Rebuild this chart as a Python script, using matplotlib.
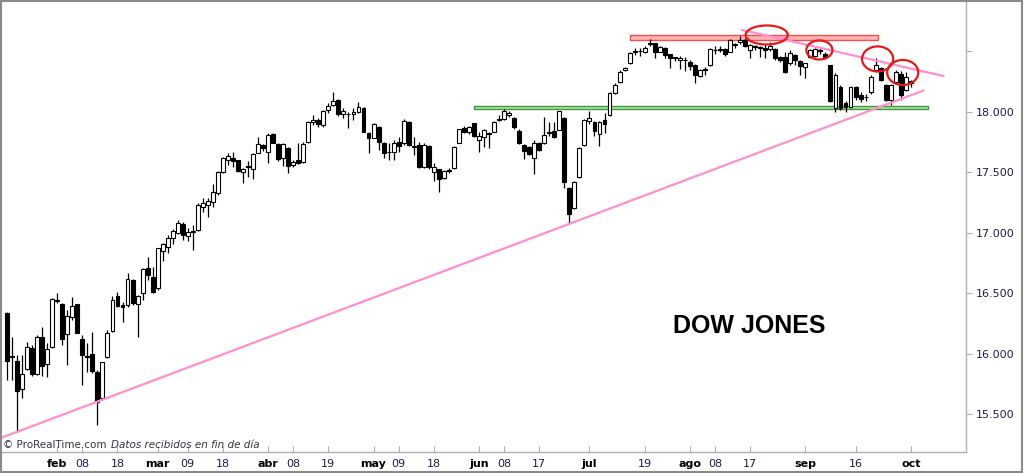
import matplotlib
matplotlib.use("Agg")
import matplotlib.pyplot as plt
from matplotlib.patches import Rectangle, Ellipse

# trading-day index (0 = 15 Jan 2016), one entry per candle
opens = [16340, 15970, 15943, 15707, 15872, 16050, 15833, 16141, 15916, 16054,
         16445, 16411, 16164, 16306, 16409, 16120, 15985, 15998, 15852, 15632,
         15971, 16191, 16478, 16403, 16403, 16610, 16411, 16500, 16709, 16632,
         16541, 16852, 16880, 16954, 16995, 17072, 16973, 17014, 17023, 17215,
         17229, 17257, 17326, 17499, 17601, 17620, 17601, 17499, 17551, 17527,
         17656, 17725, 17670, 17813, 17731, 17615, 17703, 17560, 17601, 17587,
         17747, 17913, 17932, 17890, 18014, 18055, 18097, 17979, 17985, 17985,
         17995, 18033, 17822, 17785, 17876, 17744, 17665, 17670, 17752, 17739,
         17918, 17710, 17725, 17546, 17717, 17505, 17524, 17450, 17515, 17532,
         17744, 17863, 17835, 17904, 17766, 17794, 17825, 17835, 17935, 17937,
         17975, 17945, 17843, 17725, 17711, 17615, 17744, 17739, 17825, 17843,
         17849, 17951, 17367, 17202, 17463, 17725, 17923, 17912, 17812, 17932,
         17973, 18152, 18248, 18345, 18400, 18495, 18500, 18491, 18560, 18565,
         18496, 18529, 18474, 18450, 18427, 18430, 18413, 18386, 18298, 18345,
         18386, 18510, 18510, 18518, 18496, 18555, 18574, 18592, 18510, 18535,
         18530, 18530, 18518, 18518, 18455, 18455, 18400, 18469, 18419, 18372,
         18455, 18463, 18512, 18474, 18386, 18028, 18207, 18069, 18041, 18204,
         18138, 18122, 18165, 18345, 18359, 18221, 18097, 18248, 18309, 18180,
         18250]
highs = [16345, 16141, 15990, 15990, 16100, 16073, 16155, 16221, 16092, 16461,
         16505, 16420, 16362, 16472, 16411, 16155, 16092, 16178, 15866, 15932,
         16197, 16478, 16513, 16430, 16665, 16615, 16486, 16706, 16800, 16719,
         16874, 16918, 16981, 17029, 17105, 17091, 17037, 17064, 17243, 17285,
         17290, 17400, 17510, 17628, 17656, 17670, 17605, 17532, 17593, 17656,
         17794, 17730, 17822, 17822, 17739, 17739, 17711, 17601, 17739, 17747,
         17923, 17973, 17946, 18014, 18069, 18160, 18105, 18028, 18000, 18028,
         18078, 18041, 17835, 17904, 17882, 17752, 17739, 17766, 17794, 17937,
         17923, 17794, 17752, 17741, 17725, 17579, 17530, 17518, 17532, 17715,
         17860, 17882, 17885, 17910, 17835, 17855, 17835, 17927, 17975, 18025,
         18008, 17955, 17855, 17730, 17717, 17766, 17750, 17954, 17918, 17918,
         18010, 17960, 17380, 17430, 17710, 17940, 18006, 17920, 17925, 17987,
         18160, 18235, 18345, 18370, 18490, 18525, 18525, 18540, 18600, 18570,
         18545, 18535, 18480, 18455, 18460, 18450, 18430, 18395, 18355, 18370,
         18525, 18540, 18540, 18530, 18600, 18570, 18625, 18610, 18560, 18555,
         18545, 18560, 18580, 18525, 18460, 18490, 18510, 18475, 18425, 18405,
         18520, 18530, 18530, 18490, 18390, 18317, 18220, 18085, 18215, 18210,
         18160, 18150, 18300, 18440, 18370, 18225, 18230, 18345, 18340, 18330,
         18265]
lows = [15783, 15783, 15356, 15635, 15866, 15816, 15825, 15816, 15811, 16048,
        16417, 16073, 15907, 16279, 16169, 15742, 15852, 15839, 15412, 15618,
        15965, 16180, 16384, 16260, 16389, 16403, 16136, 16444, 16610, 16505,
        16527, 16769, 16830, 16907, 16990, 16940, 16934, 16857, 17014, 17169,
        17133, 17215, 17312, 17491, 17560, 17546, 17504, 17409, 17463, 17444,
        17656, 17675, 17574, 17739, 17593, 17551, 17491, 17546, 17565, 17574,
        17739, 17890, 17876, 17876, 17987, 18050, 17967, 17946, 17863, 17931,
        17987, 17830, 17656, 17780, 17683, 17615, 17601, 17601, 17670, 17725,
        17717, 17642, 17532, 17535, 17530, 17430, 17339, 17440, 17491, 17525,
        17740, 17825, 17820, 17790, 17670, 17711, 17698, 17830, 17925, 17930,
        17960, 17860, 17730, 17607, 17640, 17485, 17675, 17735, 17800, 17780,
        17845, 17367, 17070, 17195, 17455, 17720, 17900, 17802, 17719, 17822,
        17965, 18145, 18240, 18335, 18395, 18465, 18460, 18485, 18540, 18446,
        18490, 18446, 18364, 18420, 18350, 18340, 18345, 18235, 18290, 18300,
        18380, 18480, 18495, 18460, 18490, 18525, 18560, 18535, 18440, 18510,
        18455, 18440, 18500, 18430, 18410, 18320, 18390, 18386, 18303, 18276,
        18445, 18455, 18480, 18440, 18083, 17995, 18014, 18000, 18030, 18100,
        18080, 18090, 18150, 18330, 18250, 18085, 18055, 18235, 18097, 18170,
        18205]
closes = [15943, 15980, 15695, 15833, 16059, 15833, 16141, 15899, 16037, 16453,
          16435, 16122, 16315, 16397, 16174, 15990, 15970, 15860, 15604, 15930,
          16169, 16444, 16395, 16384, 16615, 16417, 16478, 16698, 16651, 16513,
          16872, 16907, 16954, 17017, 17083, 16981, 17009, 17005, 17229, 17243,
          17265, 17339, 17499, 17615, 17634, 17593, 17510, 17527, 17543, 17648,
          17731, 17698, 17808, 17744, 17609, 17731, 17554, 17587, 17574, 17731,
          17918, 17932, 17899, 18006, 18050, 18088, 17979, 18006, 17981, 17995,
          18041, 17835, 17780, 17896, 17752, 17661, 17670, 17744, 17717, 17926,
          17725, 17715, 17546, 17725, 17541, 17541, 17442, 17510, 17510, 17711,
          17855, 17835, 17876, 17799, 17799, 17849, 17820, 17918, 17940, 18008,
          17990, 17871, 17739, 17678, 17651, 17744, 17684, 17808, 17830, 17789,
          18006, 17417, 17152, 17422, 17703, 17932, 17951, 17841, 17918, 17896,
          18152, 18221, 18331, 18364, 18482, 18500, 18505, 18529, 18565, 18491,
          18537, 18469, 18446, 18446, 18441, 18427, 18380, 18303, 18345, 18345,
          18518, 18510, 18515, 18474, 18592, 18555, 18592, 18545, 18551, 18538,
          18527, 18510, 18545, 18441, 18427, 18331, 18482, 18427, 18380, 18400,
          18510, 18518, 18505, 18455, 18088, 18303, 18028, 18041, 18207, 18122,
          18105, 18118, 18289, 18386, 18262, 18097, 18221, 18331, 18138, 18289,
          18235]

tick_pos = [10, 15, 22, 30, 36, 43, 52, 57, 64, 73, 78, 85, 94, 99, 106,
            116, 127, 136, 141, 148, 159, 169, 180]
tick_lab = ["feb", "08", "18", "mar", "09", "18", "abr", "08", "19", "may", "09",
            "18", "jun", "08", "17", "jul", "19", "ago", "08", "17", "sep", "16", "oct"]
months = ["feb", "mar", "abr", "may", "jun", "jul", "ago", "sep", "oct"]
y_ticks = [15500, 16000, 16500, 17000, 17500, 18000, 18500]
y_labs = ["15.500", "16.000", "16.500", "17.000", "17.500", "18.000", ""]

# annotations (index, price)
support_line = ([-1.2, 182.5], [15305, 18175])
resist_line = ([146.4, 186.5], [18675, 18295])
red_band = (124.1, 173.4, 18592, 18634)
green_band = (93.0, 183.5, 18020, 18047)
circles = [(151.3, 18634, 8.4, 157), (161.8, 18510, 5.2, 157),
           (173.4, 18436, 6.2, 207), (178.4, 18324, 6.2, 207)]

fig = plt.figure(figsize=(10.24, 4.73), dpi=100)
ax = fig.add_axes([1 / 1024, 21 / 473, 965 / 1024, 452 / 473])

txt_col = "#1c1c44"
spine_col = "#a8b0b8"

# candles
n = len(closes)
xs = list(range(n))
ax.vlines(xs, lows, highs, color="black", linewidth=0.9, zorder=2)
for i in xs:
    o, c = opens[i], closes[i]
    bottom = min(o, c)
    h = max(abs(c - o), 4)
    fc = "white" if c >= o else "black"
    ax.bar(i, h, bottom=bottom, width=0.78, facecolor=fc, edgecolor="black",
           linewidth=0.8, zorder=3)

# bands
r0, r1, r2, r3 = red_band
ax.add_patch(Rectangle((r0, r2), r1 - r0, r3 - r2, facecolor="#ffb3b3",
                       edgecolor="#f05050", linewidth=1.0, zorder=1))
g0, g1, g2, g3 = green_band
ax.add_patch(Rectangle((g0, g2), g1 - g0, g3 - g2, facecolor="#b8e0b0",
                       edgecolor="#3c9a3c", linewidth=1.0, zorder=1))

# trend lines
ax.plot(*support_line, color="#ff8fcf", linewidth=1.6, zorder=4)
ax.plot(*resist_line, color="#ff8fcf", linewidth=1.6, zorder=4)

for cx, cy, w, h in circles:
    ax.add_patch(Ellipse((cx, cy), w, h, fill=False, edgecolor="#e81818",
                         linewidth=1.6, zorder=5))

ax.text(0.775, 0.279, "DOW JONES", transform=ax.transAxes, ha="center", va="center",
        fontsize=18, fontweight="bold", family="Liberation Sans", color="black")
ax.text(0.002, 0.016, "© ProRealTime.com", transform=ax.transAxes, ha="left",
        va="center", fontsize=7.5, color="#333344")
ax.text(0.114, 0.016, "Datos recibidos en fin de día", transform=ax.transAxes,
        ha="left", va="center", fontsize=7.5, style="italic", color="#333344")

ax.set_xlim(-1.2, 191.0)
ax.set_ylim(15188.6, 18923)

ax.yaxis.tick_right()
ax.set_yticks(y_ticks)
ax.set_yticklabels(y_labs)
ax.tick_params(axis="y", direction="out", length=4, width=0.8, color=spine_col,
               labelsize=8, labelcolor=txt_col, pad=3)
ax.set_xticks(tick_pos)
ax.set_xticklabels(tick_lab)
ax.tick_params(axis="x", direction="in", length=4, width=0.8, color=spine_col,
               labelsize=8, labelcolor=txt_col, pad=5)
for lab in ax.get_xticklabels():
    if lab.get_text() in months:
        lab.set_fontweight("bold")
        lab.set_color("black")

for s in ["top", "left"]:
    ax.spines[s].set_visible(False)
for s in ["right", "bottom"]:
    ax.spines[s].set_color(spine_col)
    ax.spines[s].set_linewidth(1.0)

# outer frame of the picture
fig.patches.append(Rectangle((0.0005, 0.002), 0.998, 0.996, transform=fig.transFigure,
                             fill=False, edgecolor="#8a8a8a", linewidth=1.5))

fig.savefig("out.png", dpi=100)
